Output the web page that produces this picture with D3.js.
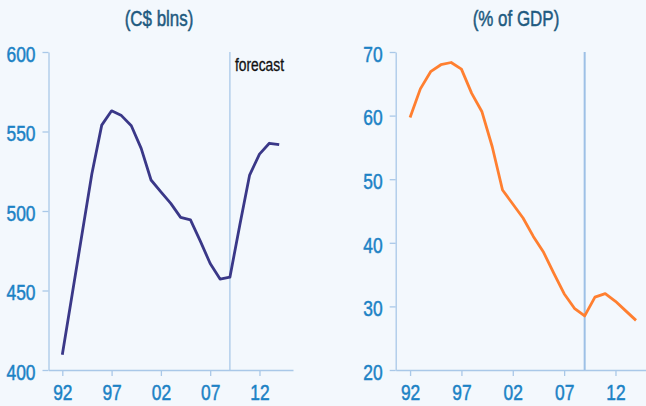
<!DOCTYPE html>
<html>
<head>
<meta charset="utf-8">
<script src="https://cdn.jsdelivr.net/npm/d3@7"></script>
<style>
  html, body { margin: 0; padding: 0; background: #f3f8fd; }
  svg { display: block; }
  text { font-family: "Liberation Sans", Arial, sans-serif; }
</style>
</head>
<body>
<svg id="chart" width="646" height="406"></svg>
<script>
// Years shared by both panels
const years = [1992, 1993, 1994, 1995, 1996, 1997, 1998, 1999, 2000, 2001, 2002, 2003,
               2004, 2005, 2006, 2007, 2008, 2009, 2010, 2011, 2012, 2013, 2014];

// Federal debt, C$ billions
const debtBlns = [409.6, 447.5, 485.5, 523.4, 554, 563, 560, 553.6, 539.4, 519.5, 512, 504.8,
                  496, 494.4, 481, 467, 457.2, 458.4, 491, 522.6, 535.8, 542.6, 541.7];

// Debt as % of GDP
const debtPctGdp = [59.7, 64.2, 66.9, 68.0, 68.35, 67.3, 63.5, 60.6, 55.1, 48.3, 46.1, 43.9,
                    41.0, 38.5, 35.2, 32.0, 29.7, 28.5, 31.45, 32.0, 30.8, 29.3, 27.8];

const forecastYear = 2009;
const xTickYears = [1992, 1997, 2002, 2007, 2012];
const leftTicks = [400, 450, 500, 550, 600];
const rightTicks = [20, 30, 40, 50, 60, 70];

const svg = d3.select("#chart");
const axisColor = "#a9c8e8";
const tickColor = "#1b82c5";
const titleColor = "#1e5a80";

// horizontal squeeze that gives the text a condensed look
const tickNarrow = 0.79;
const titleNarrow = 0.77;

function heavier(sel, color, w) {
  sel.attr("stroke", color).attr("stroke-width", w).attr("paint-order", "stroke");
}

function panel(opts) {
  const x = d3.scaleLinear().domain([1990.6, 2015.4]).range([opts.left, opts.right]);
  const y = d3.scaleLinear().domain(opts.yDomain).range([370, 52]);

  const g = svg.append("g");

  const xAxis = g.append("g")
    .attr("transform", "translate(0,370)")
    .call(d3.axisBottom(x).tickValues(xTickYears)
      .tickFormat(d => String(d).slice(2)).tickSize(6).tickSizeOuter(0));

  const yAxis = g.append("g")
    .attr("transform", `translate(${opts.left},0)`)
    .call(d3.axisLeft(y).tickValues(opts.yTicks).tickSize(6).tickSizeOuter(0));

  [xAxis, yAxis].forEach(a => {
    a.select(".domain").attr("stroke", axisColor).attr("stroke-width", 1.3);
    a.selectAll(".tick line").attr("stroke", axisColor).attr("stroke-width", 1.3);
    a.selectAll(".tick text").attr("fill", tickColor)
      .style("font-size", "22px")
      .attr("transform", `scale(${tickNarrow},1)`)
      .call(heavier, tickColor, 0.5);
  });
  xAxis.selectAll(".tick text").attr("y", 30).attr("dy", null);
  yAxis.selectAll(".tick text").attr("x", -13 / tickNarrow).attr("dy", "0.42em");

  // Forecast divider
  g.append("line")
    .attr("x1", x(forecastYear)).attr("x2", x(forecastYear))
    .attr("y1", y(opts.yDomain[1])).attr("y2", y(opts.yDomain[0]))
    .attr("stroke", opts.dividerColor).attr("stroke-width", opts.dividerWidth);

  const line = d3.line().x((d, i) => x(years[i])).y(d => y(d));
  g.append("path")
    .datum(opts.values)
    .attr("fill", "none")
    .attr("stroke", opts.color)
    .attr("stroke-width", 2.8)
    .attr("stroke-linejoin", "round")
    .attr("d", line);

  g.append("g")
    .attr("transform", `translate(${opts.titleX},26) scale(${titleNarrow},1)`)
    .append("text")
    .attr("text-anchor", "middle")
    .attr("fill", titleColor)
    .style("font-size", "22px")
    .text(opts.title)
    .call(heavier, titleColor, 0.5);

  return { x, y, g };
}

const left = panel({
  left: 48.5, right: 293, yDomain: [400, 600], yTicks: leftTicks,
  values: debtBlns, color: "#3a3888", title: "(C$ blns)", titleX: 159,
  dividerColor: "#a9c8e8", dividerWidth: 1.3
});

left.g.append("g")
  .attr("transform", `translate(${left.x(forecastYear) + 5},71) scale(0.79,1)`)
  .append("text")
  .attr("fill", "#111")
  .style("font-size", "17.5px")
  .text("forecast")
  .call(heavier, "#111", 0.3);

panel({
  left: 395.7, right: 650.4, yDomain: [20, 70], yTicks: rightTicks,
  values: debtPctGdp, color: "#ff7f30", title: "(% of GDP)", titleX: 516,
  dividerColor: "#9dc0e6", dividerWidth: 2
});
</script>
</body>
</html>
